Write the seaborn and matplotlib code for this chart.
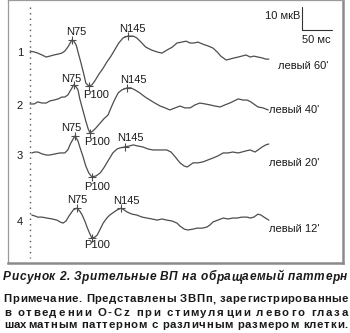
import numpy as np
import pandas as pd
import matplotlib
matplotlib.use("Agg")
import matplotlib.pyplot as plt
from matplotlib import ft2font, font_manager
from matplotlib.font_manager import FontProperties
import seaborn as sns

# Pattern-reversal VEP records, O-Cz, left eye. Time in ms, amplitude in µV
# (negative values are drawn upward).
t1 = [0, 7, 13, 20, 27, 33, 40, 47, 53, 58, 63, 67, 70, 73, 77, 80, 85, 90, 93, 98,
      103, 108, 115, 122, 128, 135, 142, 148, 155, 163, 172, 178, 185, 193, 203, 212,
      220, 228, 237, 245, 253, 260, 267, 273, 280, 288, 297, 305, 312, 318, 327, 333,
      340, 347, 353, 360, 367, 373, 380, 387, 393, 398]
v1 = [0, 0.4, 0.9, 1.7, 2.6, 2.2, 1.7, 1.3, 0.9, 0, -1.7, -3.5, -4.8, -4.3, -2.6, 0.4,
      5.2, 10.4, 13.9, 15.2, 14.8, 13.0, 10.0, 7.4, 4.8, 2.2, -0.9, -3.5, -5.7, -6.5,
      -6.5, -5.7, -3.9, -1.7, -0.4, 0.4, 0.9, -0.4, -1.7, -3.5, -3.9, -4.3, -3.5, -3.5,
      -3.9, -3.0, -2.2, -1.3, 0.4, 2.2, 3.9, 3.5, 3.0, 2.6, 2.2, 1.7, 2.6, 2.2, 2.6, 3.0,
      3.5, 3.5]

t2 = [0, 7, 13, 20, 27, 33, 40, 47, 53, 58, 63, 68, 73, 77, 80, 83, 88, 93, 97, 100,
      105, 110, 117, 123, 130, 135, 140, 147, 153, 162, 168, 175, 183, 192, 200, 208,
      217, 225, 233, 242, 250, 258, 267, 275, 283, 292, 300, 308, 317, 325, 333, 340,
      347, 355, 362, 368, 375, 380, 388, 397]
v2 = [0, 0, -0.9, -0.4, -0.4, -1.3, -1.7, -2.2, -3.0, -3.0, -3.9, -6.1, -8.3, -7.4,
      -6.1, -2.2, 2.6, 7.4, 10.9, 12.6, 11.7, 10.4, 8.3, 6.5, 4.8, 1.7, -1.3, -4.8,
      -6.1, -7.0, -7.0, -6.1, -4.8, -3.0, -1.7, -0.4, 0.9, 1.7, 2.6, 1.7, 0.9, 1.7, 1.7,
      0.4, -0.4, 0, 0.4, 0.9, 1.3, 0.4, -0.4, -1.3, -2.2, -1.7, -1.7, -0.9, 0.4, 1.3,
      1.7, 2.6]

t3 = [3, 8, 13, 20, 27, 33, 42, 50, 58, 63, 68, 75, 80, 83, 88, 93, 98, 103, 110, 117,
      123, 128, 133, 138, 145, 150, 158, 165, 172, 180, 188, 197, 205, 213, 222, 228,
      235, 242, 250, 257, 262, 267, 272, 280, 288, 297, 305, 313, 322, 330, 338, 347,
      353, 360, 367, 375, 380, 387, 393, 398]
v3 = [0, -0.4, -0.4, 0.4, 0.9, 0.9, 0.4, 0, 0, -1.3, -4.3, -7.4, -5.2, -2.6, 1.3, 5.7,
      8.7, 10.4, 10.0, 8.7, 6.5, 4.3, 2.2, 0, -1.7, -2.2, -2.6, -3.0, -3.5, -3.0, -2.6,
      -1.7, -1.3, -1.3, -1.3, -1.3, -0.4, 1.7, 4.3, 5.7, 6.1, 5.2, 4.3, 4.3, 3.9, 3.0,
      2.2, 1.3, 0, 0, -0.4, 0, -0.4, -0.9, -1.3, -0.4, -1.3, -2.6, -3.5, -3.9]

t4 = [3, 8, 13, 20, 28, 37, 45, 50, 55, 60, 65, 72, 78, 83, 87, 92, 95, 100, 103, 108,
      112, 117, 122, 128, 133, 140, 145, 152, 157, 162, 170, 178, 187, 195, 203, 212,
      220, 228, 237, 245, 250, 257, 263, 272, 278, 287, 295, 300, 305, 313, 322, 330,
      338, 345, 353, 362, 367, 373, 380, 385, 390, 398]
v4 = [0, 0.4, 0.9, 0.9, 1.3, 1.7, 2.2, 3.0, 3.5, 2.6, 0.4, -2.2, -3.0, -1.7, 0, 3.0,
      5.2, 8.3, 10.0, 9.6, 8.7, 6.1, 3.5, 1.3, 0, -1.3, -2.2, -3.0, -2.2, -1.3, -0.4, 0,
      0.9, 1.3, 1.7, 2.2, 1.7, 2.2, 2.6, 3.5, 4.8, 6.1, 6.5, 6.1, 5.7, 5.7, 5.2, 4.3,
      3.0, 2.2, 1.3, 1.7, 1.3, 1.3, 0.9, 0.9, 1.3, 0.9, -0.4, 0, 0.9, 2.2]

record_ids = ["1", "2", "3", "4"]
check_labels = ["левый 60'", "левый 40'", "левый 20'", "левый 12'"]
lat_n75 = [70, 73, 75, 78]
lat_p100 = [98, 100, 103, 103]
lat_n145 = [163, 162, 158, 152]

times = [t1, t2, t3, t4]
values = [v1, v2, v3, v4]

# ---- layout -------------------------------------------------------------
W, H, DPI = 350, 333, 100
PX_MS, PX_UV = 0.6, 2.3            # pixels per ms / per µV
X0_PX = 30                          # stimulus onset column
offsets = [22.2, 45.2, 66.5, 93.5]  # vertical stacking of the records (µV units)

sns.set_theme(style="white")
plt.rcParams["font.family"] = ["Liberation Sans", "DejaVu Sans"]
INK = "#1a1a1a"
TRACE = "#4d4d4d"

fig = plt.figure(figsize=(W / DPI, H / DPI), dpi=DPI)
fig.patch.set_facecolor("white")
ax = fig.add_axes([8 / W, 1 - 263 / H, 335 / W, 262.5 / H])
ax.set_xlim((8 - X0_PX) / PX_MS, (343 - X0_PX) / PX_MS)
ax.set_ylim(263 / PX_UV, 0.5 / PX_UV)
ax.set_xticks([])
ax.set_yticks([])
for side in ["left", "top"]:
    ax.spines[side].set_color("#9a9a9a")
    ax.spines[side].set_linewidth(0.9)
for side in ["right", "bottom"]:
    ax.spines[side].set_color("#8a8a8a")
    ax.spines[side].set_linewidth(1.8)

frames = []
for rid, t, v, off in zip(record_ids, times, values, offsets):
    frames.append(pd.DataFrame({"ms": t, "y": np.asarray(v) + off, "record": rid}))
df = pd.concat(frames, ignore_index=True)

sns.lineplot(data=df, x="ms", y="y", units="record", estimator=None, sort=False,
             color=TRACE, linewidth=0.9, ax=ax, legend=False)
ax.set_xlabel("")
ax.set_ylabel("")

# stimulus onset
ax.plot([0, 0], [7 / PX_UV, 258 / PX_UV], color="#555555", lw=1.0,
        linestyle=(0, (1, 3)))

# peak markers and labels (offsets in pixels)
n75_off = [(4, 8), (-3, 6), (-4, 8), (0, 8)]
n145_off = [(5, 7), (6, 8), (6, 9), (5, 7)]
p100_off = [(7, -9), (7, -9), (5, -10), (5, -7)]
fs = 8
for i in range(4):
    t, v, off = times[i], values[i], offsets[i]
    for name, lat, dxy in (("N75", lat_n75[i], n75_off[i]),
                           ("P100", lat_p100[i], p100_off[i]),
                           ("N145", lat_n145[i], n145_off[i])):
        y = v[t.index(lat)] + off
        ax.plot([lat], [y], marker="+", ms=6, mew=0.8, color=TRACE, ls="none")
        ax.annotate(name, (lat, y), xytext=dxy, textcoords="offset pixels",
                    ha="center", va="center", fontsize=fs, color=INK)

# record numbers and check-size labels
num_y = [23.0, 46.1, 67.8, 96.5]
for rid, y in zip(record_ids, num_y):
    ax.text(-17, y, rid, ha="center", va="center", fontsize=fs, color=INK)
lab_x = [413, 398, 398, 398]
lab_y = [28.7, 47.8, 70.9, 99.6]
for lab, x, y in zip(check_labels, lab_x, lab_y):
    ax.text(x, y, lab, ha="left", va="center", fontsize=fs, color=INK)

# calibration bar: 10 µV / 50 ms
bar_x, bar_y = 453, 13.0
ax.plot([bar_x, bar_x], [bar_y, bar_y - 10], color="#333333", lw=0.8)
ax.plot([bar_x, bar_x + 50], [bar_y, bar_y], color="#333333", lw=0.8)
ax.text(bar_x - 3, 7.0, "10 мкВ", ha="right", va="center", fontsize=fs, color=INK)
ax.text(bar_x + 25, 17.4, "50 мс", ha="center", va="center", fontsize=fs, color=INK)


def justified(text, y_px, x0, x1, fp):
    """Draw a line of text filling x0..x1 (figure pixels) by even letter spacing."""
    face = ft2font.FT2Font(font_manager.findfont(fp), hinting_factor=1)
    face.set_size(fp.get_size_in_points(), DPI)
    adv, lsb = [], []
    for c in text:
        g = face.load_char(ord(c), flags=ft2font.LoadFlags.NO_HINTING)
        adv.append(g.horiAdvance / 64)
        lsb.append(g.horiBearingX / 64)
    extra = (x1 - x0 - sum(adv)) / (len(text) - 1)
    pen = x0
    for c, a, b in zip(text, adv, lsb):
        if c != " ":
            fig.text((pen + max(b, 0)) / W, 1 - y_px / H, c, ha="left",
                     va="baseline", fontproperties=fp, color=INK)
        pen += a + extra


fp_title = FontProperties(family="Liberation Sans", weight="bold", style="italic", size=8.6)
fp_note = FontProperties(family="Liberation Sans", weight="bold", size=8.2)
justified("Рисунок 2. Зрительные ВП на обращаемый паттерн", 280.5, 3, 347, fp_title)
justified("Примечание. Представлены ЗВПп, зарегистрированные", 302.5, 3, 347, fp_note)
justified("в отведении O-Cz при стимуляции левого глаза", 315.5, 3, 347, fp_note)
justified("шахматным паттерном с различным размером клетки.", 328.5, 3, 347, fp_note)

fig.savefig("out.png", dpi=DPI)
